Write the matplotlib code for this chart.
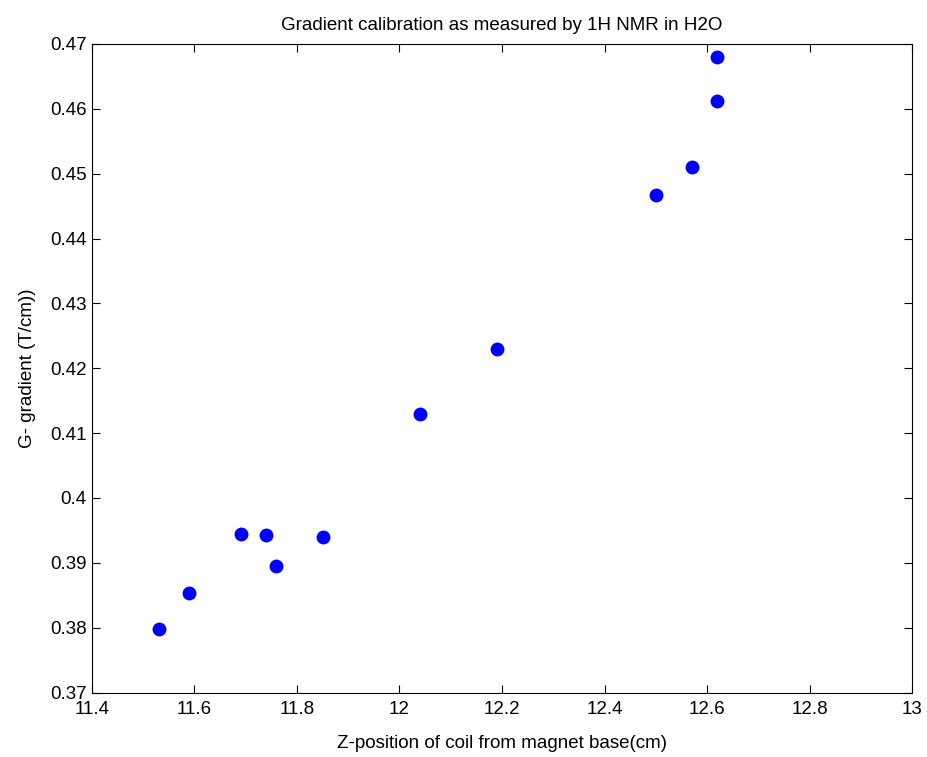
import matplotlib.pyplot as plt

plt.rcParams['font.family'] = ['Liberation Sans', 'DejaVu Sans']

# z-position of coil (cm) and measured gradient (T/cm)
z_position = [11.53, 11.59, 11.69, 11.74, 11.76, 11.85, 12.04, 12.19, 12.50, 12.57, 12.62, 12.62]
gradient = [0.3798, 0.3853, 0.3944, 0.3943, 0.3895, 0.3940, 0.4129, 0.4229, 0.4467, 0.4510, 0.4612, 0.4680]

x_ticks = [11.4, 11.6, 11.8, 12, 12.2, 12.4, 12.6, 12.8, 13]
x_tick_labels = ['11.4', '11.6', '11.8', '12', '12.2', '12.4', '12.6', '12.8', '13']
y_ticks = [0.37, 0.38, 0.39, 0.40, 0.41, 0.42, 0.43, 0.44, 0.45, 0.46, 0.47]
y_tick_labels = ['0.37', '0.38', '0.39', '0.4', '0.41', '0.42', '0.43', '0.44', '0.45', '0.46', '0.47']

fig = plt.figure(figsize=(9.28, 7.57), dpi=100)
ax = fig.add_axes([0.0991, 0.0852, 0.8837, 0.8567])

ax.plot(z_position, gradient, 'o', color=(0, 0, 1), markersize=10, markeredgewidth=0)

ax.set_xlim(11.4, 13)
ax.set_ylim(0.37, 0.47)
ax.set_xticks(x_ticks)
ax.set_xticklabels(x_tick_labels)
ax.set_yticks(y_ticks)
ax.set_yticklabels(y_tick_labels)
ax.tick_params(direction='in', length=5.8, width=0.8, top=True, right=True,
               labelsize=13.5, colors='black')
ax.tick_params(axis='x', pad=6)
ax.tick_params(axis='y', pad=4)
for spine in ax.spines.values():
    spine.set_linewidth(0.8)

ax.set_title("Gradient calibration as measured by 1H NMR in H2O", fontsize=13.5, pad=10)
ax.set_xlabel("Z-position of coil from magnet base(cm)", fontsize=13.5, labelpad=12)
ax.set_ylabel("G- gradient (T/cm))", fontsize=13.5, labelpad=10)

fig.savefig("out.png", dpi=100)
